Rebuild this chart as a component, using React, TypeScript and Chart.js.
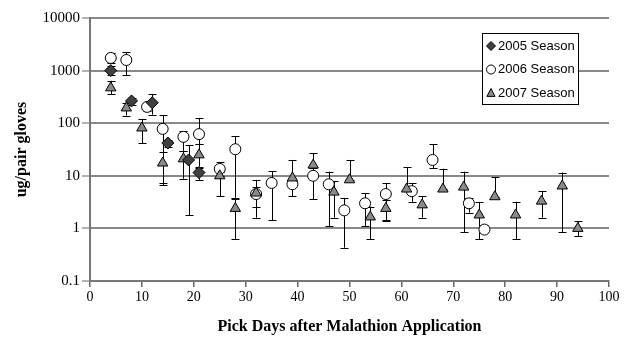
import React, { useEffect, useRef } from "react";
import { Chart, registerables } from "chart.js";

Chart.register(...registerables);

const seriesLabels = ["2005 Season", "2006 Season", "2007 Season"];

const x2005 = [4, 8, 12, 15, 19, 21];
const y2005 = [1000, 265, 245, 42, 20, 11.5];
const lo2005 = [830, 225, 145, 36, 1.8, 8.4];
const hi2005 = [1200, 300, 360, 48, 38, 14];

const x2006 = [4, 7, 11, 14, 18, 21, 25, 28, 32, 35, 39, 43, 46, 49, 53, 57, 62, 66, 73, 76];
const y2006 = [1740, 1590, 204, 78, 55, 62, 13.5, 32, 4.5, 7.3, 6.9, 10, 6.9, 2.2, 3.0, 4.5, 5.1, 20, 3.0, 0.95];
const lo2006 = [1400, 825, 170, 7.3, 30, 40, 10, 3.8, 2.6, 1.44, 4.1, 3.6, 1.1, 0.43, 1.1, 1.45, 3.2, 14, 2.0, 0.82];
const hi2006 = [2150, 2250, 240, 143, 71, 126, 18, 57, 6, 12.3, 9, 14, 12, 3.8, 4.7, 7.3, 7.3, 40, 3.8, 1.15];

const x2007 = [4, 7, 10, 14, 18, 21, 25, 28, 32, 39, 43, 47, 50, 54, 57, 61, 64, 68, 72, 75, 78, 82, 87, 91, 94];
const y2007 = [470, 195, 81, 17.5, 21, 25, 10, 2.4, 4.7, 9.1, 16, 4.9, 8.4, 1.65, 2.4, 5.6, 2.8, 5.6, 6.1, 1.8, 4.0, 1.8, 3.3, 6.4, 1.0];
const lo2007 = [360, 140, 42, 6.7, 8.8, 15, 4.1, 0.63, 1.6, 6, 10, 1.6, 8.4, 0.63, 1.4, 5.6, 1.6, 5.6, 0.84, 0.63, 4.0, 0.63, 1.6, 0.84, 0.72];
const hi2007 = [640, 240, 120, 28, 30, 40, 12, 3.6, 8.4, 20, 27, 7.9, 20, 2.6, 3.4, 14.5, 4.1, 13.6, 12, 3.2, 9.5, 3.2, 5.1, 11.5, 1.36];

const yTickValues = [0.1, 1, 10, 100, 1000, 10000];
const yTickLabels = ["0.1", "1", "10", "100", "1000", "10000"];

const xTitle = "Pick Days after Malathion Application";
const yTitle = "ug/pair gloves";

const toPoints = (xs: number[], ys: number[]) => xs.map((x, i) => ({ x, y: ys[i] }));

const errorRanges = [
  { lo: lo2005, hi: hi2005 },
  { lo: lo2006, hi: hi2006 },
  { lo: lo2007, hi: hi2007 },
];

const markerStyles = [
  { shape: "diamond", fill: "#404040" },
  { shape: "circle", fill: "#ffffff" },
  { shape: "triangle", fill: "#8a8a8a" },
];

function drawMarker(ctx: CanvasRenderingContext2D, shape: string, x: number, y: number, r: number, fill: string) {
  ctx.save();
  ctx.beginPath();
  if (shape === "diamond") {
    ctx.moveTo(x, y - r);
    ctx.lineTo(x + r, y);
    ctx.lineTo(x, y + r);
    ctx.lineTo(x - r, y);
    ctx.closePath();
  } else if (shape === "circle") {
    ctx.arc(x, y, r, 0, Math.PI * 2);
  } else {
    ctx.moveTo(x, y - r);
    ctx.lineTo(x + r * 0.9, y + r * 0.75);
    ctx.lineTo(x - r * 0.9, y + r * 0.75);
    ctx.closePath();
  }
  ctx.fillStyle = fill;
  ctx.fill();
  ctx.strokeStyle = "#000";
  ctx.lineWidth = 1;
  ctx.stroke();
  ctx.restore();
}

const errorBarPlugin = {
  id: "errorBars",
  beforeDatasetsDraw(chart: any) {
    const ctx = chart.ctx;
    const yScale = chart.scales.y;
    ctx.save();
    ctx.strokeStyle = "#000";
    ctx.lineWidth = 1;
    chart.data.datasets.forEach((ds: any, di: number) => {
      const meta = chart.getDatasetMeta(di);
      const er = errorRanges[di];
      meta.data.forEach((pt: any, i: number) => {
        const px = Math.round(pt.x) + 0.5;
        const yl = yScale.getPixelForValue(er.lo[i]);
        const yh = yScale.getPixelForValue(er.hi[i]);
        ctx.beginPath();
        ctx.moveTo(px, yl);
        ctx.lineTo(px, yh);
        ctx.moveTo(px - 4, Math.round(yl) + 0.5);
        ctx.lineTo(px + 4, Math.round(yl) + 0.5);
        ctx.moveTo(px - 4, Math.round(yh) + 0.5);
        ctx.lineTo(px + 4, Math.round(yh) + 0.5);
        ctx.stroke();
      });
    });
    ctx.restore();
  },
};

const legendPlugin = {
  id: "boxLegend",
  afterDraw(chart: any) {
    const ctx = chart.ctx;
    const area = chart.chartArea;
    const bx = area.right - 127;
    const by = area.top + 15;
    const bw = 96;
    const bh = 71;
    ctx.save();
    ctx.fillStyle = "#fff";
    ctx.fillRect(bx, by, bw, bh);
    ctx.strokeStyle = "#000";
    ctx.lineWidth = 1;
    ctx.strokeRect(bx + 0.5, by + 0.5, bw, bh);
    ctx.font = "13px 'Liberation Sans', Arial, sans-serif";
    ctx.textBaseline = "middle";
    ctx.textAlign = "left";
    seriesLabels.forEach((lab, i) => {
      const cy = by + 13 + i * 23.5;
      const m = markerStyles[i];
      drawMarker(ctx, m.shape, bx + 9, cy, 4.5, m.fill);
      ctx.fillStyle = "#000";
      ctx.fillText(lab, bx + 16, cy);
    });
    ctx.restore();
  },
};

export default function App() {
  const ref = useRef<HTMLCanvasElement | null>(null);
  useEffect(() => {
    if (!ref.current) return;
    const mk = (i: number, xs: number[], ys: number[], order: number) => {
      const m = markerStyles[i];
      return {
        label: seriesLabels[i],
        data: toPoints(xs, ys),
        pointStyle: m.shape === "diamond" ? "rectRot" : m.shape === "circle" ? "circle" : "triangle",
        pointRadius: m.shape === "diamond" ? 6 : m.shape === "circle" ? 5.5 : 6,
        backgroundColor: m.fill,
        borderColor: "#000",
        borderWidth: 1,
        showLine: false,
        order,
      };
    };
    const chart = new Chart(ref.current, {
      type: "scatter",
      data: {
        datasets: [
          mk(0, x2005, y2005, 0),
          mk(1, x2006, y2006, 2),
          mk(2, x2007, y2007, 1),
        ] as any,
      },
      options: {
        animation: false,
        responsive: false,
        layout: { padding: { left: 0, right: 16, top: 18, bottom: 0 } },
        plugins: {
          legend: { display: false },
          tooltip: { enabled: false },
        },
        scales: {
          x: {
            type: "linear",
            min: 0,
            max: 100,
            ticks: {
              stepSize: 10,
              color: "#000",
              padding: 2,
              font: { family: "'Liberation Serif', 'Times New Roman', serif", size: 14 },
            },
            grid: { drawOnChartArea: false, color: "#666", tickLength: 6, lineWidth: 1.5 },
            border: { color: "#777", width: 2 },
            title: {
              display: true,
              text: xTitle,
              color: "#000",
              padding: { top: 0, bottom: 1 },
              font: { family: "'Liberation Serif', 'Times New Roman', serif", size: 16, weight: "bold" },
            },
            afterFit: (s: any) => { s.height = 56; },
          } as any,
          y: {
            type: "logarithmic",
            min: 0.1,
            max: 10000,
            afterBuildTicks: (s: any) => { s.ticks = yTickValues.map((v) => ({ value: v })); },
            ticks: {
              color: "#000",
              padding: 2,
              callback: (v: any) => { const k = yTickValues.indexOf(Number(v)); return k >= 0 ? yTickLabels[k] : ""; },
              font: { family: "'Liberation Serif', 'Times New Roman', serif", size: 15 },
            },
            grid: { color: "#888", lineWidth: 2, tickLength: 8, tickColor: "#666", tickWidth: 1 },
            border: { color: "#777", width: 2 },
            title: {
              display: true,
              text: yTitle,
              color: "#000",
              padding: { top: 12, bottom: 0 },
              font: { family: "'Liberation Serif', 'Times New Roman', serif", size: 16, weight: "bold" },
            },
            afterFit: (s: any) => { s.width = 90; },
          } as any,
        },
      },
      plugins: [errorBarPlugin, legendPlugin],
    });
    return () => chart.destroy();
  }, []);
  return (
    <div style={{ position: "absolute", left: 0, top: 0, width: 625, height: 337, background: "#fff" }}>
      <canvas ref={ref} width={625} height={337} />
    </div>
  );
}
